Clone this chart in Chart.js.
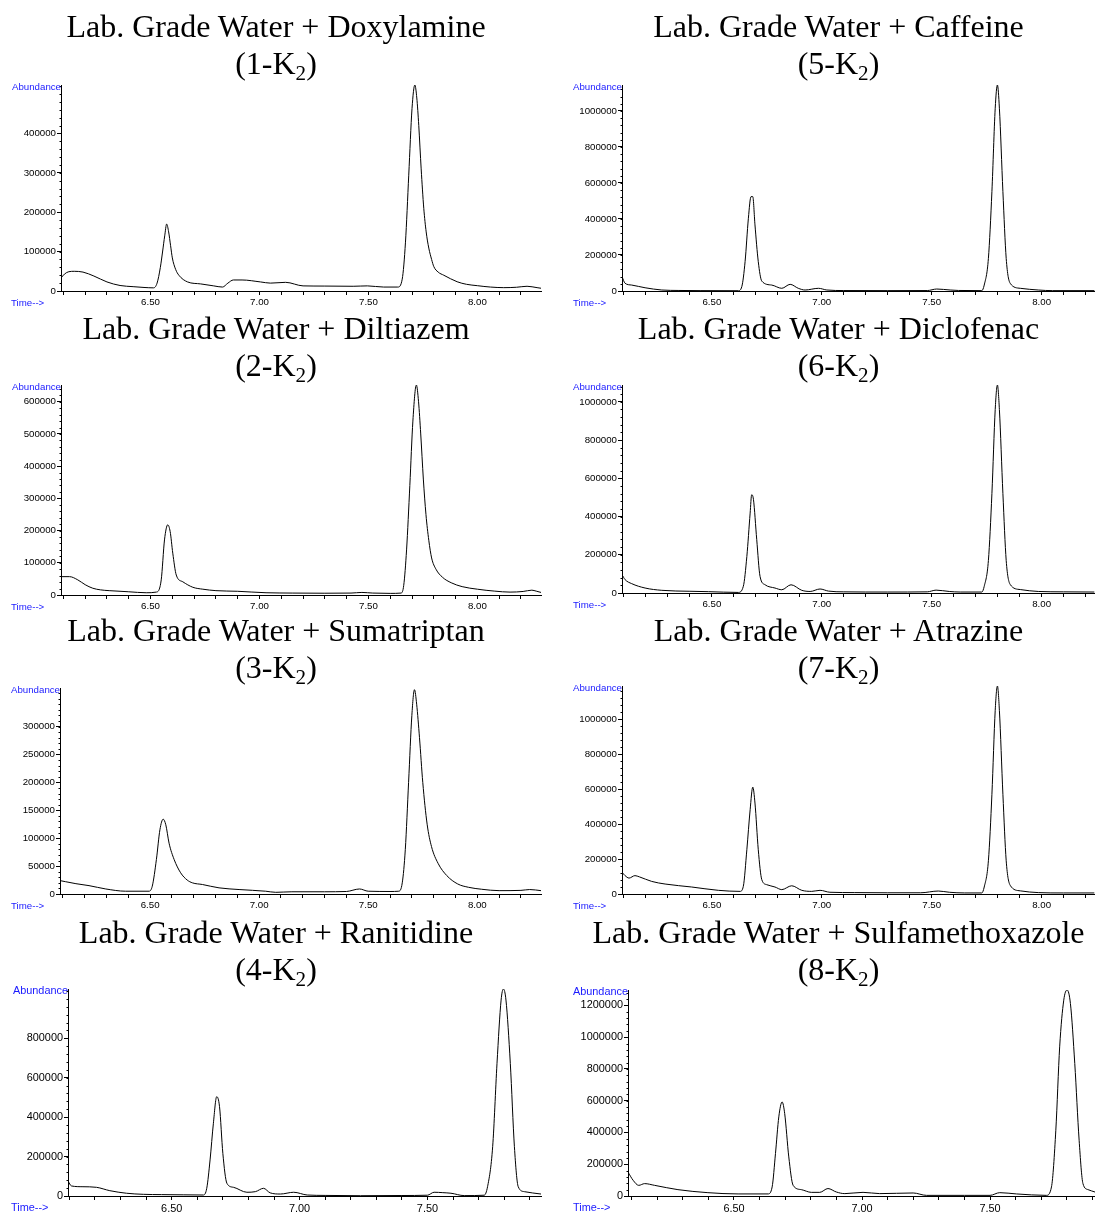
<!DOCTYPE html>
<html>
<head>
<meta charset="utf-8">
<script src="https://cdn.jsdelivr.net/npm/chart.js@4.4.1/dist/chart.umd.min.js"></script>
<style>
  html, body { margin:0; padding:0; background:#fff; }
  body { width:1095px; height:1214px; position:relative; overflow:hidden; }
  canvas { position:absolute; }
  .title { position:absolute; text-align:center; font-family:"Liberation Serif","Times New Roman",serif;
           font-size:32px; line-height:37px; color:#000; white-space:nowrap; z-index:2; }
  .title sub { font-size:0.66em; vertical-align:-0.28em; line-height:0; }
</style>
</head>
<body>
<script>
// ---------------- DATA ----------------
const compoundNames = ["Doxylamine","Diltiazem","Sumatriptan","Ranitidine","Caffeine","Diclofenac","Atrazine","Sulfamethoxazole"];
const sampleCodes = ["1","2","3","4","5","6","7","8"];

const xTickLabelsLong = ["6.50","7.00","7.50","8.00"];
const xTickLabelsShort = ["6.50","7.00","7.50"];

const yTicks1 = [0,100000,200000,300000,400000];
const yTicks2 = [0,100000,200000,300000,400000,500000,600000];
const yTicks3 = [0,50000,100000,150000,200000,250000,300000];
const yTicks4 = [0,200000,400000,600000,800000];
const yTicks5 = [0,200000,400000,600000,800000,1000000];
const yTicks6 = [0,200000,400000,600000,800000,1000000];
const yTicks7 = [0,200000,400000,600000,800000,1000000];
const yTicks8 = [0,200000,400000,600000,800000,1000000,1200000];

// 1 Doxylamine
const time1 = [6.089,6.105,6.125,6.15,6.19,6.24,6.30,6.36,6.42,6.47,6.514,6.53,6.545,6.555,6.565,6.574,6.583,6.592,6.60,6.615,6.63,6.67,6.73,6.79,6.83,6.855,6.88,6.92,7.005,7.05,7.12,7.20,7.30,7.43,7.495,7.57,7.635,7.655,7.67,7.685,7.70,7.713,7.722,7.731,7.742,7.754,7.765,7.777,7.79,7.80,7.82,7.846,7.907,7.95,8.00,8.06,8.121,8.18,8.228,8.274,8.292];
const abund1 = [33000,43000,49000,50000,48000,38000,23000,14000,11000,9000,8000,20000,60000,99000,140000,170000,150000,115000,84000,55000,40000,23000,18000,13000,10000,20000,28000,28000,23000,20000,22000,13000,12500,12000,13000,10000,10000,30000,124000,294000,463000,523000,490000,420000,310000,210000,150000,109000,80000,62000,48000,40000,23500,17000,13500,10000,8500,9500,12000,8500,7000];

// 2 Diltiazem
const time2 = [6.089,6.128,6.166,6.20,6.235,6.27,6.31,6.40,6.48,6.526,6.549,6.564,6.579,6.59,6.602,6.618,6.648,6.694,6.74,6.80,6.90,7.03,7.15,7.30,7.42,7.47,7.52,7.60,7.65,7.662,7.675,7.69,7.704,7.72,7.73,7.74,7.752,7.764,7.777,7.79,7.81,7.84,7.88,7.93,8.00,8.08,8.15,8.21,8.25,8.27,8.292];
const abund2 = [57000,57000,47000,32000,21000,16000,13500,10000,7000,9000,47000,171000,218000,197000,130000,62000,41000,24000,18000,13500,11500,7000,6000,5500,6000,8000,6000,5000,6000,30000,140000,340000,540000,652000,600000,500000,360000,250000,170000,115000,80000,55000,38000,26000,18000,12000,9000,11000,15000,12000,8000];

// 3 Sumatriptan
const time3 = [6.087,6.113,6.16,6.22,6.297,6.388,6.495,6.51,6.529,6.545,6.56,6.572,6.587,6.61,6.64,6.67,6.694,6.74,6.816,6.908,7.03,7.076,7.15,7.30,7.40,7.46,7.50,7.60,7.64,7.656,7.67,7.685,7.70,7.712,7.722,7.735,7.75,7.77,7.79,7.82,7.86,7.91,7.96,8.02,8.10,8.20,8.24,8.292];
const abund3 = [24000,22000,18500,15000,9000,5000,5000,14000,62000,115000,134000,124000,91000,62000,38000,25000,20000,17000,11000,8000,5000,3000,4000,4000,4500,9000,5000,4500,5000,20000,80000,200000,320000,366000,340000,280000,200000,125000,85000,55000,33000,18000,12000,8500,6000,6500,8000,6000];

// 4 Ranitidine
const time4 = [6.0945,6.108,6.153,6.206,6.258,6.323,6.389,6.46,6.545,6.624,6.637,6.65,6.663,6.676,6.687,6.70,6.716,6.742,6.794,6.827,6.859,6.885,6.925,6.977,7.03,7.10,7.238,7.40,7.50,7.526,7.56,7.592,7.644,7.722,7.735,7.755,7.772,7.788,7.797,7.807,7.824,7.84,7.855,7.879,7.944];
const abund4 = [76000,51000,47000,44000,27000,14000,8500,7000,6000,5000,39000,183000,369000,504000,453000,216000,64000,44000,19000,22000,39000,16000,10000,19000,5000,3000,1500,2500,4000,19000,17000,14000,2000,4000,47000,250000,673000,994000,1050000,994000,673000,250000,47000,22000,10000];

// 5 Caffeine
const time5 = [6.091,6.105,6.135,6.196,6.272,6.35,6.45,6.62,6.636,6.651,6.666,6.678,6.686,6.696,6.711,6.727,6.772,6.818,6.856,6.893,6.924,6.985,7.023,7.10,7.30,7.48,7.523,7.584,7.622,7.728,7.739,7.758,7.774,7.789,7.799,7.808,7.824,7.839,7.857,7.903,7.985,8.05,8.24];
const abund5 = [80000,43000,33000,18000,5500,3000,2000,1500,24000,163000,404000,524000,524000,367000,163000,55000,33000,15000,37000,15000,5500,15000,5500,2500,2000,2500,11000,5500,3000,2000,33000,181000,552000,1015000,1144000,1015000,552000,181000,43000,15000,5500,2000,2000];

// 6 Diclofenac
const time6 = [6.091,6.105,6.135,6.196,6.272,6.40,6.484,6.62,6.643,6.659,6.674,6.681,6.689,6.704,6.719,6.742,6.787,6.818,6.860,6.909,6.947,6.992,7.03,7.10,7.30,7.48,7.52,7.58,7.63,7.728,7.739,7.758,7.774,7.789,7.799,7.808,7.824,7.839,7.857,7.903,7.985,8.10,8.24];
const abund6 = [96000,70000,49000,26000,14000,9000,7000,3000,35000,191000,418000,514000,490000,279000,87000,43000,26000,17000,43000,14000,8000,21000,10000,6000,5000,6000,15000,8000,5000,5000,35000,170000,520000,960000,1088000,960000,520000,170000,45000,18000,8000,6000,5000];

// 7 Atrazine
const time7 = [6.091,6.105,6.123,6.150,6.17,6.226,6.287,6.408,6.529,6.628,6.643,6.659,6.674,6.686,6.696,6.711,6.727,6.750,6.787,6.818,6.863,6.909,6.954,6.992,7.037,7.15,7.30,7.45,7.53,7.58,7.65,7.728,7.739,7.758,7.774,7.789,7.799,7.808,7.824,7.839,7.857,7.903,7.985,8.10,8.24];
const abund7 = [124000,105000,91000,105000,98000,72000,57000,40000,21000,15000,44000,253000,482000,611000,520000,253000,82000,53000,40000,25000,47000,21000,15000,21000,10000,8000,7000,7000,17000,10000,6000,6000,40000,190000,570000,1050000,1189000,1050000,570000,190000,50000,18000,8000,6000,6000];

// 8 Sulfamethoxazole
const time8 = [6.088,6.106,6.128,6.151,6.19,6.281,6.398,6.516,6.633,6.649,6.662,6.675,6.688,6.698,6.714,6.731,6.763,6.802,6.835,6.867,6.9,6.933,7.004,7.069,7.2,7.252,7.40,7.50,7.538,7.603,7.72,7.74,7.757,7.772,7.788,7.801,7.814,7.831,7.848,7.863,7.883,7.91];
const abund8 = [145000,99000,67000,78000,67000,40000,21000,13000,13000,57000,267000,498000,592000,519000,246000,67000,40000,23000,23000,47000,25000,15000,23000,15000,19000,4000,4000,4000,21000,13000,4000,57000,414000,939000,1233000,1297000,1212000,834000,351000,78000,40000,25000];

// ---------------- LAYOUT ----------------
const COLS = [{left:0, width:548, center:276}, {left:562, width:533, center:838.5}];
const ROW_TITLE_TOP = [8, 310, 612, 914];

const panels = [
  {n:0, col:0, row:0, axisX:61,  top:85,  zero:291,  right:541,  xmin:6.089, xmax:8.292, ymax:523000,  t:time1, a:abund1, yt:yTicks1, xt:xTickLabelsLong,  fs:9.7},
  {n:1, col:0, row:1, axisX:61,  top:385, zero:595,  right:541,  xmin:6.089, xmax:8.292, ymax:652000,  t:time2, a:abund2, yt:yTicks2, xt:xTickLabelsLong,  fs:9.7},
  {n:2, col:0, row:2, axisX:60,  top:688, zero:894,  right:541,  xmin:6.087, xmax:8.292, ymax:369000,  t:time3, a:abund3, yt:yTicks3, xt:xTickLabelsLong,  fs:9.7},
  {n:3, col:0, row:3, axisX:68,  top:989, zero:1196, right:541,  xmin:6.0945,xmax:7.944, ymax:1050000, t:time4, a:abund4, yt:yTicks4, xt:xTickLabelsShort, fs:10.9},
  {n:4, col:1, row:0, axisX:622, top:85,  zero:291,  right:1095, xmin:6.091, xmax:8.243, ymax:1144000, t:time5, a:abund5, yt:yTicks5, xt:xTickLabelsLong,  fs:9.7},
  {n:5, col:1, row:1, axisX:622, top:385, zero:593,  right:1095, xmin:6.091, xmax:8.243, ymax:1088000, t:time6, a:abund6, yt:yTicks6, xt:xTickLabelsLong,  fs:9.7},
  {n:6, col:1, row:2, axisX:622, top:686, zero:894,  right:1095, xmin:6.091, xmax:8.243, ymax:1189000, t:time7, a:abund7, yt:yTicks7, xt:xTickLabelsLong,  fs:9.7},
  {n:7, col:1, row:3, axisX:628, top:990, zero:1196, right:1095, xmin:6.086, xmax:7.91,  ymax:1297000, t:time8, a:abund8, yt:yTicks8, xt:xTickLabelsShort, fs:10.9}
];

// titles
panels.forEach(p => {
  const c = COLS[p.col];
  const d = document.createElement('div');
  d.className = 'title';
  d.style.left = (c.center - 300) + 'px';
  d.style.width = '600px';
  d.style.top = ROW_TITLE_TOP[p.row] + 'px';
  d.innerHTML = 'Lab. Grade Water + ' + compoundNames[p.n] + '<br>(' + sampleCodes[p.n] + '-K<sub>2</sub>)';
  document.body.appendChild(d);
});

const TOP_PAD = 12, BOTTOM_H = 26;

const labelsPlugin = {
  id: 'gcLabels',
  afterDraw(chart) {
    const p = chart.options.plugins.gcLabels;
    const ctx = chart.ctx, ca = chart.chartArea;
    const ys = chart.scales.y;
    ctx.save();
    // minor ticks on y axis
    ctx.strokeStyle = '#000';
    ctx.lineWidth = 1;
    const step = (p.yt[1] - p.yt[0]) / 5;
    ctx.beginPath();
    for (let v = step; v <= ys.max; v += step) {
      const y = Math.round(ys.getPixelForValue(v)) + 0.5;
      const x = Math.round(ca.left) + 0.5;
      ctx.moveTo(x - 2, y); ctx.lineTo(x, y);
    }
    ctx.stroke();
    ctx.fillStyle = '#1a1aff';
    ctx.font = p.fs + 'px "Liberation Sans", Arial, sans-serif';
    ctx.textBaseline = 'middle';
    ctx.textAlign = 'right';
    ctx.fillText('Abundance', ca.left, ca.top + 2);
    ctx.textAlign = 'left';
    ctx.fillText('Time-->', p.timeX, ca.bottom + 12);
    ctx.restore();
  }
};

panels.forEach(p => {
  const c = COLS[p.col];
  const cv = document.createElement('canvas');
  const top = p.top - TOP_PAD;
  const h = (p.zero - p.top) + TOP_PAD + BOTTOM_H;
  cv.width = c.width; cv.height = h;
  cv.style.left = c.left + 'px';
  cv.style.top = top + 'px';
  cv.style.width = c.width + 'px';
  cv.style.height = h + 'px';
  document.body.appendChild(cv);

  const yAxisW = p.axisX - c.left;
  const rightPad = c.width - (p.right - c.left);
  const font = {family:'"Liberation Sans", Arial, sans-serif', size:p.fs};

  new Chart(cv.getContext('2d'), {
    type: 'line',
    data: { datasets: [{
      data: p.t.map((x, i) => ({x: x, y: p.a[i]})),
      borderColor: '#000', borderWidth: 1, pointRadius: 0, fill: false,
      cubicInterpolationMode: 'monotone'
    }]},
    options: {
      responsive: false, animation: false, devicePixelRatio: 1,
      layout: { padding: { left: 0, top: TOP_PAD, right: rightPad, bottom: 0 } },
      plugins: {
        legend: {display:false}, tooltip: {enabled:false}, title: {display:false},
        gcLabels: { yt: p.yt, fs: p.fs, timeX: 11 }
      },
      scales: {
        x: {
          type: 'linear', min: p.xmin, max: p.xmax,
          afterBuildTicks(scale) {
            const ticks = [];
            for (let k = Math.ceil(p.xmin * 10); k <= Math.floor(p.xmax * 10 + 1e-6); k++) ticks.push({value: k / 10});
            scale.ticks = ticks;
          },
          afterFit(scale) { scale.height = BOTTOM_H; },
          ticks: {
            autoSkip: false, maxRotation: 0, minRotation: 0, padding: 2, color: '#000', font: font,
            callback(v) {
              const lab = p.xt.find(s => Math.abs(parseFloat(s) - v) < 1e-6);
              return lab === undefined ? '' : lab;
            }
          },
          grid: { display: true, drawOnChartArea: false, drawTicks: true, tickLength: 4, color: '#000', lineWidth: 1 },
          border: { display: true, color: '#000', width: 1 }
        },
        y: {
          type: 'linear', min: 0, max: p.ymax,
          afterBuildTicks(scale) { scale.ticks = p.yt.map(v => ({value: v})); },
          afterFit(scale) { scale.width = yAxisW; },
          ticks: { autoSkip: false, padding: 1, color: '#000', font: font, callback: v => String(v) },
          grid: { display: true, drawOnChartArea: false, drawTicks: true, tickLength: 4, color: '#000', lineWidth: 1 },
          border: { display: true, color: '#000', width: 1 }
        }
      }
    },
    plugins: [labelsPlugin]
  });
});
</script>
</body>
</html>
